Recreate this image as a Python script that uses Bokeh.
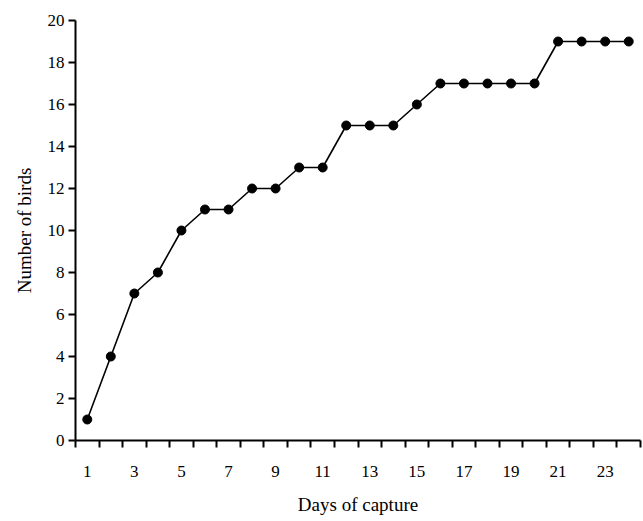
from bokeh.plotting import figure
from bokeh.models import FixedTicker, Range1d
from bokeh.embed import file_html
from bokeh.resources import INLINE

days = list(range(1, 25))
birds = [1, 4, 7, 8, 10, 11, 11, 12, 12, 13, 13, 15, 15, 15, 16, 17, 17, 17, 17, 17, 19, 19, 19, 19]
x_tick_labels = [1, 3, 5, 7, 9, 11, 13, 15, 17, 19, 21, 23]
y_ticks = [0, 2, 4, 6, 8, 10, 12, 14, 16, 18, 20]

FONT = "Liberation Serif"

p = figure(width=642, height=521, output_backend="svg", toolbar_location=None,
           x_range=Range1d(0.5, 24.5), y_range=Range1d(0, 20),
           min_border_left=75, min_border_right=2, min_border_top=20, min_border_bottom=81)
p.outline_line_color = None
p.xgrid.visible = False
p.ygrid.visible = False
p.background_fill_color = "white"

p.line(days, birds, line_color="black", line_width=1.6)
p.scatter(days, birds, size=9, fill_color="black", line_color="black")

xa = p.xaxis[0]
xa.ticker = FixedTicker(ticks=x_tick_labels, minor_ticks=[d - 0.5 for d in days] + [24.5])
xa.major_tick_out = 0
xa.major_tick_in = 0
xa.minor_tick_out = 7
xa.minor_tick_in = 0
xa.minor_tick_line_width = 2
xa.minor_tick_line_color = "black"
xa.axis_line_width = 2
xa.axis_line_color = "black"
xa.major_label_standoff = 18
xa.major_label_text_font = FONT
xa.major_label_text_font_size = "17px"
xa.major_label_text_color = "black"
xa.axis_label = "Days of capture"
xa.axis_label_text_font = FONT
xa.axis_label_text_font_size = "19px"
xa.axis_label_text_font_style = "normal"
xa.axis_label_text_color = "black"
xa.axis_label_standoff = 14

ya = p.yaxis[0]
ya.ticker = FixedTicker(ticks=y_ticks, minor_ticks=[])
ya.major_tick_out = 7
ya.major_tick_in = 0
ya.major_tick_line_width = 2
ya.minor_tick_out = 0
ya.minor_tick_in = 0
ya.axis_line_width = 2
ya.axis_line_color = "black"
ya.major_label_standoff = 4
ya.major_label_text_font = FONT
ya.major_label_text_font_size = "17px"
ya.major_label_text_color = "black"
ya.axis_label = "Number of birds"
ya.axis_label_text_font = FONT
ya.axis_label_text_font_size = "19px"
ya.axis_label_text_font_style = "normal"
ya.axis_label_text_color = "black"
ya.axis_label_standoff = 10

open("out.html", "w").write(file_html(p, INLINE))
